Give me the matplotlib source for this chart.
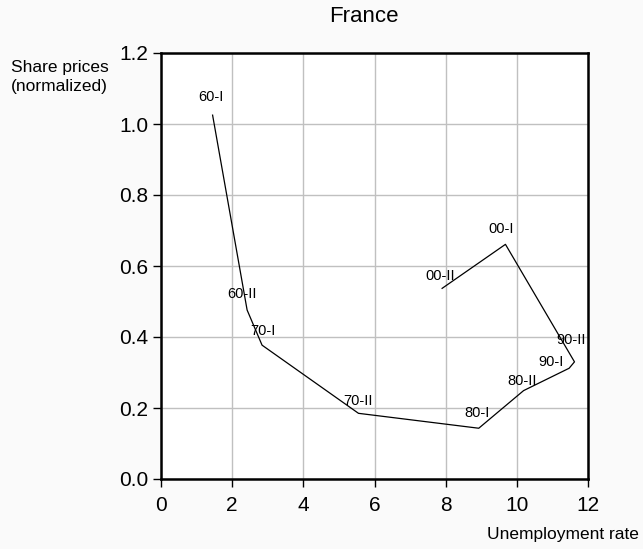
import matplotlib
matplotlib.use("Agg")
import matplotlib.pyplot as plt

plt.rcParams['font.family'] = ['Liberation Sans', 'DejaVu Sans']

labels = ["60-I", "60-II", "70-I", "70-II", "80-I", "80-II", "90-I", "90-II", "00-I", "00-II"]
unemployment = [1.45, 2.42, 2.84, 5.55, 8.93, 10.19, 11.47, 11.62, 9.68, 7.90]
share_prices = [1.025, 0.476, 0.377, 0.185, 0.143, 0.249, 0.312, 0.330, 0.661, 0.537]
label_offsets = [(-2, 18), (-5, 16), (1, 14), (0, 12), (-2, 15), (-1, 10), (-18, 6), (-3, 22), (-4, 15), (-2, 12)]

xticks = [0, 2, 4, 6, 8, 10, 12]
yticks = [0.0, 0.2, 0.4, 0.6, 0.8, 1.0, 1.2]

fig = plt.figure(figsize=(6.43, 5.49), dpi=100, facecolor='#fafafa')
ax = fig.add_axes([161 / 643, 1 - 479 / 549, 427 / 643, 426 / 549])
ax.set_facecolor('white')

ax.plot(unemployment, share_prices, color='black', lw=0.9)
for lab, x, y, off in zip(labels, unemployment, share_prices, label_offsets):
    ax.annotate(lab, (x, y), xytext=off, textcoords='offset pixels',
                ha='center', va='center', fontsize=10.5)

ax.set_xlim(0, 12)
ax.set_ylim(0, 1.2)
ax.set_xticks(xticks)
ax.set_yticks(yticks)
ax.set_xticklabels([str(t) for t in xticks])
ax.set_yticklabels([f"{t:.1f}" for t in yticks])
ax.tick_params(axis='x', direction='out', length=6, width=1, labelsize=15, pad=6)
ax.tick_params(axis='y', direction='out', length=6, width=1, labelsize=15, pad=3)
ax.grid(True, color='#c0c0c0', lw=1)
ax.set_axisbelow(True)
for s in ax.spines.values():
    s.set_linewidth(1.8)
    s.set_color('black')

fig.text(364 / 643, 1 - 17 / 549, "France", ha='center', va='center', fontsize=16)
fig.text(11 / 643, 1 - 77 / 549, "Share prices\n(normalized)", ha='left', va='center', fontsize=12.5, linespacing=1.3)
fig.text(639 / 643, 1 - 535 / 549, "Unemployment rate", ha='right', va='center', fontsize=12.5)

fig.savefig("out.png", dpi=100, facecolor=fig.get_facecolor())
